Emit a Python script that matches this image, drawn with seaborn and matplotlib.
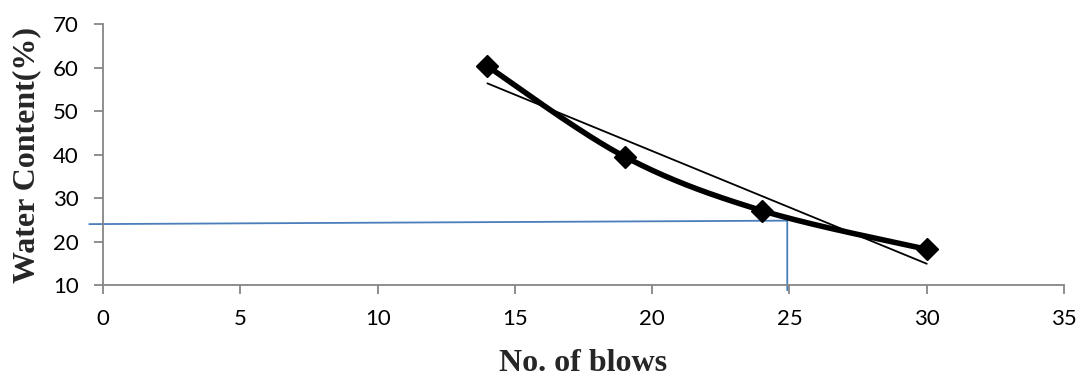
import numpy as np
import pandas as pd
import matplotlib
matplotlib.use("Agg")
import matplotlib.pyplot as plt
import seaborn as sns

# Liquid-limit test readings
blows = [14, 19, 24, 30]
water_content = [60.3, 39.5, 27.1, 18.2]

# Reading guide at 25 blows
guide_x = [-0.5, 24.92, 24.92]
guide_y = [24.0, 24.8, 8.8]

x_ticks = [0, 5, 10, 15, 20, 25, 30, 35]
y_ticks = [10, 20, 30, 40, 50, 60, 70]

sns.set_theme(style="white")
plt.rcParams["font.family"] = ["Lato", "DejaVu Sans"]

fig = plt.figure(figsize=(10.83, 3.76), dpi=100)
ax = fig.add_axes([0.0951, 0.242, 0.8874, 0.694])

df = pd.DataFrame({"blows": blows, "wc": water_content})


def smooth_curve(xs, ys, n=60):
    """Catmull-Rom style cubic Bezier smoothing through the points."""
    p = np.column_stack([xs, ys]).astype(float)
    ext = np.vstack([p[0], p, p[-1]])
    out = []
    t = np.linspace(0, 1, n)[:, None]
    for i in range(1, len(ext) - 2):
        p0, p1, p2, p3 = ext[i - 1], ext[i], ext[i + 1], ext[i + 2]
        c1 = p1 + (p2 - p0) / 6.0
        c2 = p2 - (p3 - p1) / 6.0
        seg = ((1 - t) ** 3) * p1 + 3 * ((1 - t) ** 2) * t * c1 + 3 * (1 - t) * t ** 2 * c2 + t ** 3 * p2
        out.append(seg if i == 1 else seg[1:])
    return np.vstack(out)


# Guide lines
ax.plot(guide_x, guide_y, color="#4A7EBB", lw=1.3, clip_on=False, zorder=2,
        solid_joinstyle="miter")

# Linear trend line
sns.regplot(data=df, x="blows", y="wc", scatter=False, ci=None, truncate=True,
            color="black", line_kws={"lw": 1.3, "zorder": 3}, ax=ax)

# Smoothed flow curve
curve = smooth_curve(blows, water_content)
sns.lineplot(x=curve[:, 0], y=curve[:, 1], sort=False, estimator=None,
             color="black", lw=4.0, ax=ax, zorder=4)

# Data markers
ax.plot(blows, water_content, linestyle="none", marker="D", markersize=11,
        color="black", zorder=5)

ax.set_xlim(0, 35)
ax.set_ylim(10, 70)
ax.set_xticks(x_ticks)
ax.set_yticks(y_ticks)
ax.tick_params(axis="both", labelsize=16, colors="#868686", labelcolor="black",
               length=6.5, width=1.3, direction="out", bottom=True, left=True)
ax.tick_params(axis="x", pad=11)
ax.tick_params(axis="y", pad=11)

for side in ["top", "right"]:
    ax.spines[side].set_visible(False)
for side in ["left", "bottom"]:
    ax.spines[side].set_color("#868686")
    ax.spines[side].set_linewidth(1.3)

ax.set_xlabel("No. of blows", fontsize=23, fontweight="bold",
              family="Liberation Serif")
ax.set_ylabel("Water Content(%)", fontsize=23, fontweight="bold",
              family="Liberation Serif")
ax.xaxis.set_label_coords(0.5, -0.245)
ax.yaxis.set_label_coords(-0.064, 0.5)

fig.savefig("out.png", dpi=100, facecolor="white")
